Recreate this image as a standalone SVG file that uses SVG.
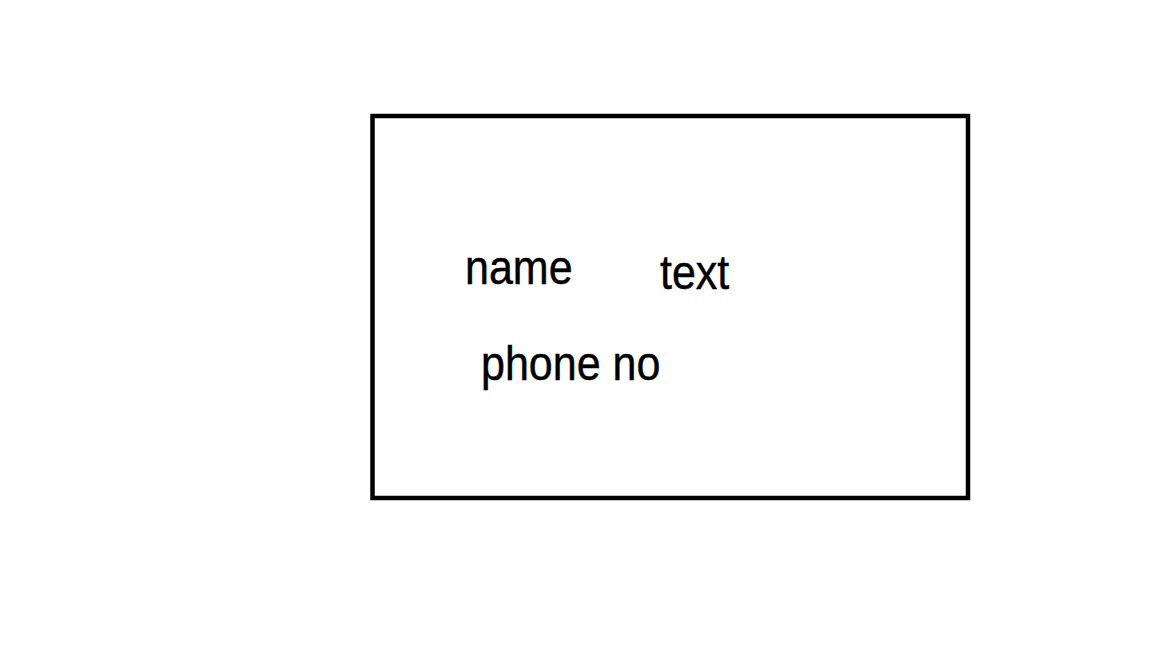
<svg xmlns="http://www.w3.org/2000/svg" width="1152" height="648" viewBox="0 0 1152 648">
<style>
.lbl{font-family:"Liberation Sans",Arial,sans-serif;font-size:43px;fill:#000;stroke:#000;stroke-width:0.4}
.box{fill:#fff;stroke:#000;stroke-width:4.5}
</style>
<rect width="1152" height="648" fill="#fff"/>
<g id="frame">
<rect class="box" x="372.5" y="116" width="595.5" height="382"/>
</g>
<g id="name"><text class="lbl" transform="translate(465,284) scale(1,1.13)">name</text></g>
<g id="text"><text class="lbl" transform="translate(660,289) scale(1,1.13)">text</text></g>
<g id="phone"><text class="lbl" transform="translate(481,380) scale(1,1.13)">phone no</text></g>
<g id="connectors"/>
</svg>
